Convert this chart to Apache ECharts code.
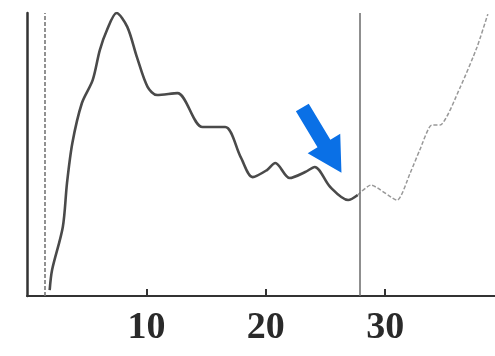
<!DOCTYPE html>
<html>
<head>
<meta charset="utf-8">
<script src="https://cdn.jsdelivr.net/npm/echarts@6/dist/echarts.min.js"></script>
<style>html,body{margin:0;padding:0;background:#fff}#c{width:495px;height:356px}</style>
</head>
<body>
<div id="c"></div>
<script>
// Solid (measured) portion of the curve: [x, y]
const solidX = [1.9, 2.1, 3.0, 3.35, 3.8, 4.6, 5.5, 6.1, 6.7, 7.5, 8.4, 9.2, 10.1, 10.9, 12.6, 14.7, 16.6, 17.9, 18.9, 20.1, 20.8, 22.0, 23.3, 24.1, 25.4, 26.9, 27.7];
const solidY = [2.1, 9.2, 24.4, 39.9, 54.1, 68.2, 76.3, 86.9, 94.0, 100, 95.1, 84.5, 73.9, 71.0, 71.7, 59.7, 59.7, 49.1, 42.0, 44.5, 47.0, 41.7, 43.8, 45.6, 38.5, 33.9, 35.7];
// Dashed (continuation) portion
const dashX = [27.7, 28.8, 31.0, 32.1, 32.9, 33.9, 34.6, 36.3, 37.7, 38.6];
const dashY = [35.7, 39.2, 33.9, 43.5, 51.6, 60.4, 60.4, 73.9, 88.0, 99.6];
// Vertical reference lines
const leftLineX = 1.5;
const rightLineX = 27.9;
// Tick labels
const tickValues = [10, 20, 30];
// Arrow annotation centre [x, y]
const arrowAt = [24.7, 55.1];

const zip = (xs, ys) => xs.map((x, i) => [x, ys[i]]);

const chart = echarts.init(document.getElementById('c'), null, {renderer: 'canvas'});
chart.setOption({
  animation: false,
  backgroundColor: '#ffffff',
  grid: {left: 27, right: 0, top: 13, bottom: 60, containLabel: false},
  xAxis: {
    type: 'value', min: 0, max: 39.2,
    axisLine: {show: true, lineStyle: {color: '#333', width: 2}},
    axisTick: {show: true, inside: true, length: 7, customValues: tickValues, lineStyle: {color: '#333', width: 2}},
    axisLabel: {show: true, customValues: tickValues, margin: 13, fontFamily: 'Liberation Serif', fontWeight: 'bold', fontSize: 38, color: '#2a2a2a'},
    splitLine: {show: false}
  },
  yAxis: {
    type: 'value', min: 0, max: 100,
    axisLine: {show: true, lineStyle: {color: '#333', width: 2.5}},
    axisTick: {show: false},
    axisLabel: {show: false},
    splitLine: {show: false}
  },
  series: [
    {
      type: 'line', data: zip(solidX, solidY), smooth: 0.3, showSymbol: false,
      lineStyle: {color: '#4a4a4a', width: 2.6},
      markLine: {
        silent: true, symbol: 'none', label: {show: false},
        data: [
          {xAxis: leftLineX, lineStyle: {color: '#777', width: 1.6, type: [4, 2]}},
          {xAxis: rightLineX, lineStyle: {color: '#6a6a6a', width: 1.5, type: 'solid'}}
        ]
      },
      markPoint: {
        silent: true,
        data: [{
          coord: arrowAt,
          symbol: 'path://M11.5,0 L26.5,0 L26.5,42 L38,42 L19,76 L0,42 L11.5,42 Z',
          symbolSize: [38, 76], symbolRotate: 31,
          itemStyle: {color: '#0a70e6'},
          label: {show: false}
        }]
      }
    },
    {
      type: 'line', data: zip(dashX, dashY), smooth: 0.2, showSymbol: false,
      lineStyle: {color: '#999', width: 1.5, type: [4, 2]}
    }
  ]
});
</script>
</body>
</html>
